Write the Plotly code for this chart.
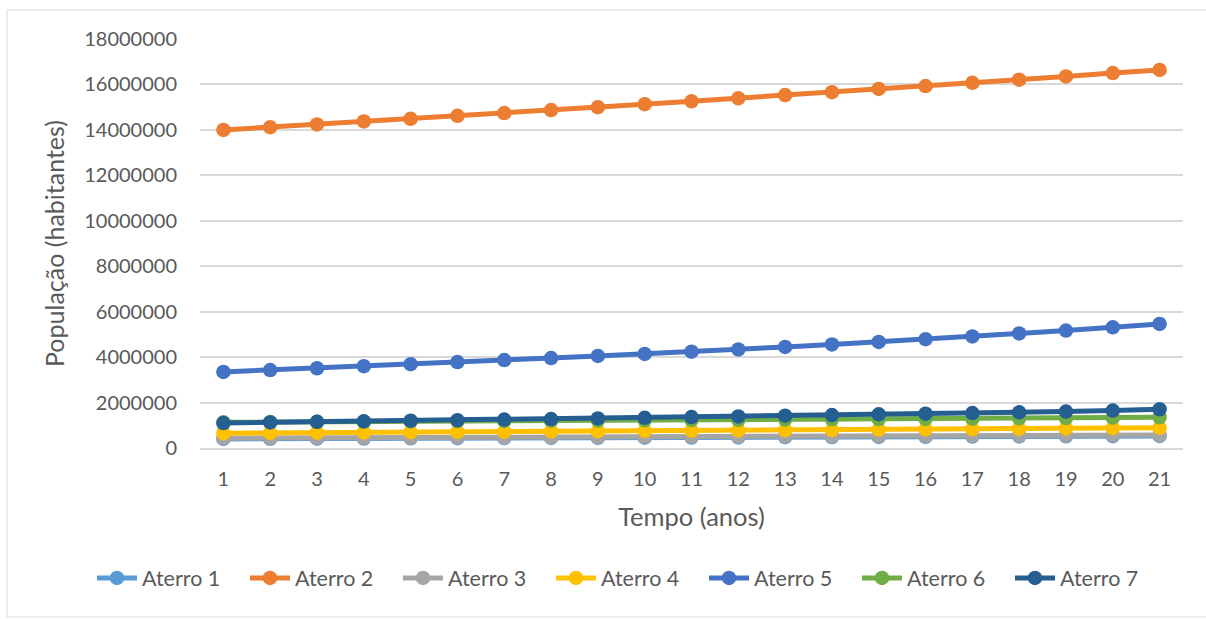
import plotly.graph_objects as go

anos = list(range(1, 22))

aterro_1 = [400000, 406000, 412000, 418000, 424000, 430000, 436000, 442000, 448000, 454000, 461000,
            467000, 474000, 480000, 487000, 494000, 501000, 508000, 515000, 522000, 530000]
aterro_2 = [14000000, 14120000, 14240000, 14370000, 14490000, 14620000, 14740000, 14870000, 15000000,
            15130000, 15260000, 15390000, 15530000, 15660000, 15800000, 15930000, 16070000, 16210000,
            16350000, 16500000, 16640000]
aterro_3 = [430000, 436000, 443000, 450000, 456000, 463000, 470000, 477000, 484000, 491000, 498000,
            505000, 512000, 520000, 527000, 535000, 543000, 551000, 559000, 567000, 575000]
aterro_4 = [650000, 661000, 672000, 683000, 694000, 705000, 716000, 727000, 738000, 750000, 762000,
            774000, 786000, 798000, 810000, 823000, 836000, 849000, 862000, 876000, 890000]
aterro_5 = [3350000, 3430000, 3510000, 3600000, 3690000, 3780000, 3870000, 3960000, 4050000, 4140000,
            4240000, 4340000, 4450000, 4560000, 4670000, 4790000, 4910000, 5040000, 5170000, 5310000,
            5460000]
aterro_6 = [1130000, 1140000, 1150000, 1160000, 1170000, 1180000, 1190000, 1200000, 1210000, 1220000,
            1230000, 1240000, 1250000, 1260000, 1270000, 1280000, 1290000, 1305000, 1320000, 1335000,
            1350000]
aterro_7 = [1100000, 1125000, 1150000, 1175000, 1200000, 1225000, 1250000, 1275000, 1300000, 1330000,
            1360000, 1390000, 1420000, 1450000, 1480000, 1510000, 1540000, 1570000, 1605000, 1650000,
            1700000]

series = [
    ("Aterro 1", aterro_1, "#5B9BD5"),
    ("Aterro 2", aterro_2, "#ED7D31"),
    ("Aterro 3", aterro_3, "#A5A5A5"),
    ("Aterro 4", aterro_4, "#FFC000"),
    ("Aterro 5", aterro_5, "#4472C4"),
    ("Aterro 6", aterro_6, "#70AD47"),
    ("Aterro 7", aterro_7, "#255E91"),
]

fig = go.Figure()
for nome, valores, cor in series:
    fig.add_trace(go.Scatter(
        x=anos, y=valores, name=nome, mode="lines+markers",
        line=dict(color=cor, width=5),
        marker=dict(color=cor, size=14.5),
    ))

W, H = 1206, 619
L, R, T, B = 200, 23, 39, 171
pw, ph = W - L - R, H - T - B

font = "Lato, 'Open Sans', sans-serif"
grey = "#595959"

fig.update_layout(
    width=W, height=H,
    margin=dict(l=L, r=R, t=T, b=B, autoexpand=False),
    paper_bgcolor="white", plot_bgcolor="white",
    font=dict(family=font, color=grey, size=20),
    showlegend=True,
    legend=dict(
        orientation="h", x=(92 - L) / pw, xanchor="left",
        y=(T + ph - 578) / ph, yanchor="middle",
        font=dict(size=21.5, color=grey), itemwidth=40,
        entrywidth=98, entrywidthmode="pixels",
        tracegroupgap=0,
    ),
    xaxis=dict(
        type="linear", range=[0.5, 21.5], tickmode="array", tickvals=anos,
        ticktext=[str(a) for a in anos], showgrid=False, zeroline=False,
        showline=True, linecolor="#D9D9D9", linewidth=1.5, ticks="",
        ticklabelstandoff=12,
        title=dict(text="Tempo (anos)", font=dict(size=25.5, color=grey), standoff=19),
    ),
    yaxis=dict(
        range=[0, 18000000], tickmode="array",
        tickvals=list(range(0, 18000001, 2000000)),
        ticktext=[str(v) for v in range(0, 18000001, 2000000)],
        showgrid=True, gridcolor="#D9D9D9", gridwidth=1.5, zeroline=False,
        showline=False, ticks="", ticklabelstandoff=22,
        title=dict(text="População (habitantes)", font=dict(size=25, color=grey), standoff=12),
    ),
    shapes=[dict(
        type="rect", xref="paper", yref="paper",
        x0=(7 - L) / pw, x1=(W + 5 - L) / pw,
        y0=(T + ph - 617) / ph, y1=(T + ph - 10) / ph,
        line=dict(color="#D9D9D9", width=1), fillcolor="rgba(0,0,0,0)", layer="below",
    )],
)

fig.write_html("out.html")
